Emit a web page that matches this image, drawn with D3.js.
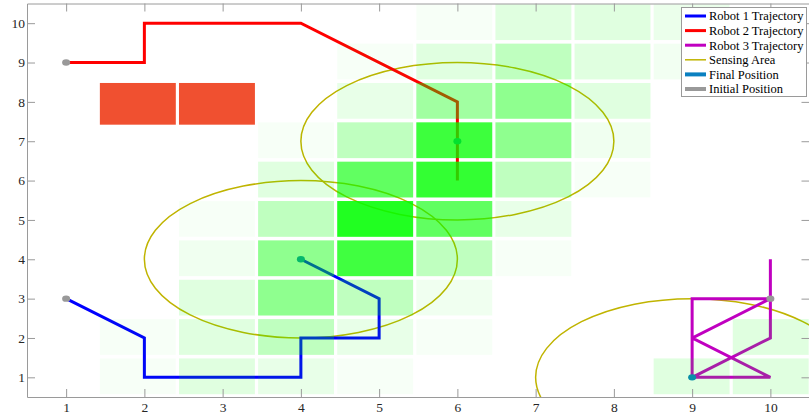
<!DOCTYPE html>
<html>
<head>
<meta charset="utf-8">
<script src="https://cdn.jsdelivr.net/npm/d3@7"></script>
<style>
  html, body { margin: 0; padding: 0; background: #fff; }
  svg { display: block; }
</style>
</head>
<body>
<svg id="chart" width="809" height="416"></svg>
<script>
// ---------- data ----------
const xTicks = [1, 2, 3, 4, 5, 6, 7, 8, 9, 10];
const yTicks = [1, 2, 3, 4, 5, 6, 7, 8, 9, 10];
const gridCols = [1, 2, 3, 4, 5, 6, 7, 8, 9, 10];
const gridRows = [10, 9, 8, 7, 6, 5, 4, 3, 2, 1];

// coverage intensity per cell (rows from y=10 down to y=1, columns x=1..10)
const heatRow10 = [0, 0, 0, 0, 0,    0.03, 0.12, 0.12, 0.08, 0];
const heatRow9  = [0, 0, 0, 0, 0.03, 0.12, 0.25, 0.12, 0.05, 0];
const heatRow8  = [0, 0, 0, 0, 0.09, 0.37, 0.44, 0.12, 0, 0];
const heatRow7  = [0, 0, 0, 0.03, 0.25, 0.76, 0.44, 0.06, 0, 0];
const heatRow6  = [0, 0, 0, 0.12, 0.62, 0.80, 0.25, 0.03, 0, 0];
const heatRow5  = [0, 0, 0.03, 0.25, 0.87, 0.62, 0.09, 0, 0, 0];
const heatRow4  = [0, 0, 0.06, 0.44, 0.75, 0.25, 0.03, 0, 0, 0];
const heatRow3  = [0, 0, 0.12, 0.44, 0.25, 0.06, 0, 0, 0, 0];
const heatRow2  = [0, 0.03, 0.12, 0.25, 0.09, 0.03, 0, 0, 0, 0.12];
const heatRow1  = [0, 0.03, 0.12, 0.09, 0.03, 0, 0, 0, 0.12, 0.12];
const heatRows = [heatRow10, heatRow9, heatRow8, heatRow7, heatRow6, heatRow5, heatRow4, heatRow3, heatRow2, heatRow1];

const obstacles = [[2, 8], [3, 8]];

const robot1 = [[1, 3], [2, 2], [2, 1], [4, 1], [4, 2], [5, 2], [5, 3], [4, 4]];
const robot2 = [[1, 9], [2, 9], [2, 10], [4, 10], [6, 8], [6, 7], [6, 6], [6, 7]];
const robot3 = [[10, 3], [10, 4], [10, 3], [9, 3], [9, 2], [10, 3], [10, 2], [9, 1], [10, 1], [9, 2], [9, 1]];
const sensingRadius = 2;

const seriesNames = ["Robot 1 Trajectory", "Robot 2 Trajectory", "Robot 3 Trajectory", "Sensing Area", "Final Position", "Initial Position"];

// ---------- styles ----------
const C = {
  r1: "#0000ff", r2: "#ff0000", r3: "#c000c0",
  sense: "#c0b400", fin: "#0a80c0", init: "#999999",
  cell: "#00ff00", obst: "#f05030", axis: "#9a9a9a"
};
const SERIF = "'Liberation Serif', 'DejaVu Serif', 'Times New Roman', serif";

const svg = d3.select("#chart");
const x = d3.scaleLinear().domain([0.5, 10.5]).range([27, 809.5]);
const y = d3.scaleLinear().domain([0.5, 10.5]).range([397, 3.5]);

const xb = d3.scaleBand().domain(gridCols).range([x(0.40), x(10.51)]).paddingInner(0.04).paddingOuter(0.02);
const yb = d3.scaleBand().domain(gridRows).range([y(10.5) - 1, y(0.5) - 1]).paddingInner(0.09).paddingOuter(0.045);

svg.append("defs").append("clipPath").attr("id", "clip")
  .append("rect").attr("x", x(0.5)).attr("y", y(10.5)).attr("width", x(10.5) - x(0.5)).attr("height", y(0.5) - y(10.5));

const plot = svg.append("g").attr("clip-path", "url(#clip)");

const finals = [robot1, robot2, robot3].map(r => r[r.length - 1]);
const inits = [robot1, robot2, robot3].map(r => r[0]);

// sensing areas
plot.selectAll("ellipse.sense").data(finals).join("ellipse")
  .attr("class", "sense")
  .attr("cx", d => x(d[0])).attr("cy", d => y(d[1]))
  .attr("rx", d => x(d[0] + sensingRadius) - x(d[0]))
  .attr("ry", d => y(d[1]) - y(d[1] + sensingRadius))
  .attr("fill", "none").attr("stroke", C.sense).attr("stroke-width", 1.5);

// trajectories
const line = d3.line().x(d => x(d[0])).y(d => y(d[1]));
[[robot1, C.r1], [robot2, C.r2], [robot3, C.r3]].forEach(([r, col]) => {
  plot.append("path").attr("d", line(r)).attr("fill", "none")
    .attr("stroke", col).attr("stroke-width", 3).attr("stroke-linejoin", "miter");
});

// positions
plot.selectAll("ellipse.init").data(inits).join("ellipse").attr("class", "init")
  .attr("cx", d => x(d[0])).attr("cy", d => y(d[1])).attr("rx", 4).attr("ry", 3.2).attr("fill", C.init);
plot.selectAll("ellipse.fin").data(finals).join("ellipse").attr("class", "fin")
  .attr("cx", d => x(d[0])).attr("cy", d => y(d[1])).attr("rx", 4).attr("ry", 3.2).attr("fill", C.fin);

// heatmap overlay (translucent green)
const cells = [];
heatRows.forEach((row, i) => row.forEach((v, j) => { if (v > 0) cells.push({ c: gridCols[j], r: gridRows[i], v }); }));
plot.selectAll("rect.cell").data(cells).join("rect").attr("class", "cell")
  .attr("x", d => xb(d.c)).attr("y", d => yb(d.r))
  .attr("width", xb.bandwidth()).attr("height", yb.bandwidth())
  .attr("fill", C.cell).attr("fill-opacity", d => d.v);

// obstacles
plot.selectAll("rect.obst").data(obstacles).join("rect").attr("class", "obst")
  .attr("x", d => xb(d[0])).attr("y", d => yb(d[1]))
  .attr("width", xb.bandwidth()).attr("height", yb.bandwidth() + yb.step() * 0.15)
  .attr("fill", C.obst);

// axes
const styleAxis = g => {
  g.attr("font-family", SERIF).attr("font-size", 13.5);
  g.select(".domain").attr("stroke", C.axis);
  g.selectAll(".tick line").attr("stroke", C.axis);
  g.selectAll(".tick text").attr("fill", "#262626").attr("font-family", SERIF).attr("font-size", 13.5);
};
svg.append("g").attr("transform", `translate(0,${y(0.5)})`)
  .call(d3.axisBottom(x).tickValues(xTicks).tickSizeInner(-8).tickSizeOuter(0).tickPadding(5)).call(styleAxis);
svg.append("g").attr("transform", `translate(0,${y(10.5)})`)
  .call(d3.axisTop(x).tickValues(xTicks).tickSizeInner(-8).tickSizeOuter(0).tickFormat("")).call(styleAxis);
svg.append("g").attr("transform", `translate(${x(0.5)},0)`)
  .call(d3.axisLeft(y).tickValues(yTicks).tickSizeInner(-8).tickSizeOuter(0).tickPadding(2)).call(styleAxis);
svg.append("g").attr("transform", `translate(${x(10.5)},0)`)
  .call(d3.axisRight(y).tickValues(yTicks).tickSizeInner(-8).tickSizeOuter(0).tickFormat("")).call(styleAxis);

// legend
const legendColors = [C.r1, C.r2, C.r3, C.sense, C.fin, C.init];
const legendWidths = [3, 3, 3, 1.5, 4, 4];
const lg = svg.append("g").attr("transform", "translate(681.5,7.5)");
lg.append("rect").attr("width", 125).attr("height", 89).attr("fill", "#fff").attr("stroke", "#9a9a9a").attr("stroke-width", 1);
const ly = d3.scalePoint().domain(seriesNames).range([8.5, 81.5]);
const items = lg.selectAll("g.item").data(seriesNames).join("g").attr("class", "item")
  .attr("transform", d => `translate(0,${ly(d)})`);
items.append("line").attr("x1", 3.5).attr("x2", 24.5)
  .attr("stroke", (d, i) => legendColors[i]).attr("stroke-width", (d, i) => legendWidths[i]);
items.append("text").attr("x", 27.5).attr("dy", "0.35em").text(d => d)
  .attr("font-family", SERIF).attr("font-size", 12.5).attr("fill", "#000");
</script>
</body>
</html>
